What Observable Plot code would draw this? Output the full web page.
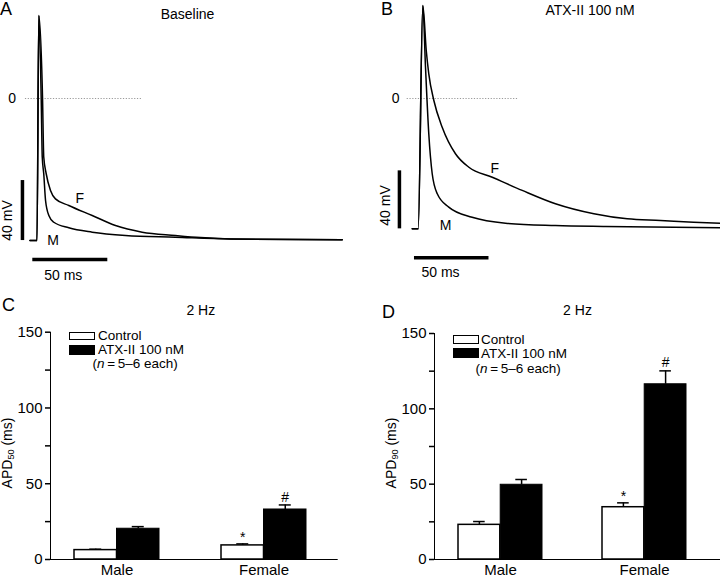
<!DOCTYPE html>
<html><head><meta charset="utf-8">
<script src="https://cdn.jsdelivr.net/npm/d3@7"></script>
<script src="https://cdn.jsdelivr.net/npm/@observablehq/plot@0.6"></script>
<style>
body{margin:0;background:#fff;}
#fig{position:relative;width:720px;height:577px;font-family:"Liberation Sans",Arial,sans-serif;color:#000;overflow:hidden;background:#fff;}
.lbl{position:absolute;white-space:nowrap;line-height:1;}
.leg{line-height:0.85;}
.sw{position:absolute;box-sizing:border-box;}
sub{font-size:0.65em;vertical-align:-0.2em;line-height:1;}
.bars g[aria-label="y-axis tick"], .bars g[aria-label="frame"], .bars g[aria-label="x-axis tick"]{stroke-width:1.5px;}
</style></head><body><div id="fig"></div>
<script>
// ---------- Data: action potential traces (time in ms, voltage in mV) ----------
const baselineMaleT = [-4.7, 0, 1.2, 2.8, 3.5, 4.5, 5.7, 7.9, 11.2, 21.2, 36.8, 59, 92.3, 129, 203.5];
const baselineMaleV = [-94.7, -94.7, 55.3, 0, -39, -50.2, -68, -78, -82.5, -86.2, -89.1, -91.3, -92.5, -93.7, -94.2];
const baselineFemaleT = [-4.7, 0, 1.2, 3.7, 4.5, 6.1, 9, 12.3, 21.2, 36.8, 52.3, 70.1, 92.3, 109, 129, 203.5];
const baselineFemaleV = [-94.7, -94.7, 55.3, 0, -39, -50, -61.3, -66.9, -71.3, -78, -84.7, -89.1, -91.3, -92.7, -93.7, -94.2];

const atxMaleT = [-4, 0, 3.1, 4.9, 7.1, 9.4, 12.8, 20.5, 36.2, 58.6, 92.1, 125.7, 202.8];
const atxMaleV = [-89.9, -89.9, 64.1, 21.6, -24.3, -51.9, -65.7, -74.9, -81.9, -86, -87.6, -88.3, -89.2];
const atxFemaleT = [-4, 0, 3.1, 5.4, 7.1, 10.5, 16.1, 25, 34, 49.7, 69.8, 92.1, 117.9, 140.3, 162.6, 184.8, 202.8];
const atxFemaleV = [-89.9, -89.9, 64.1, 33.1, 17, -1.4, -19.8, -38.1, -47.4, -54.3, -63.4, -72.6, -79.5, -83, -84.1, -85.3, -86];

// ---------- Data: APD bar charts (ms) ----------
const sexes = ["Male", "Female"];
const treatments = ["Control", "ATX-II 100 nM"];
const apd50Control = [6.2, 9.3];
const apd50ControlErr = [0.6, 1.0];
const apd50Atx = [20.3, 33.0];
const apd50AtxErr = [1.4, 3.0];
const apd90Control = [23.0, 34.7];
const apd90ControlErr = [2.2, 2.9];
const apd90Atx = [49.6, 116.3];
const apd90AtxErr = [3.5, 8.9];
const yTicks = [0, 25, 50, 75, 100, 125, 150];

const fig = document.getElementById("fig");
const FONT = '"Liberation Sans", Arial, sans-serif';
function place(el, left, top, cls) { el.style.position = "absolute"; el.style.left = left + "px"; el.style.top = top + "px"; if (cls) el.classList.add(cls); fig.appendChild(el); }
function label(html, left, top, size, extra, cls) {
  const d = document.createElement("div"); d.className = "lbl" + (cls ? " " + cls : ""); d.innerHTML = html;
  d.style.left = left + "px"; d.style.top = top + "px"; d.style.fontSize = size + "px";
  if (extra) Object.assign(d.style, extra);
  fig.appendChild(d); return d;
}
const rows = (T, V) => T.map((t, i) => ({t, v: V[i]}));

function tracePanel(o) {
  return Plot.plot({
    width: 360, height: 290,
    marginLeft: o.ml, marginRight: o.mr, marginTop: o.mt, marginBottom: o.mb,
    style: {fontFamily: FONT, fontSize: "14px", color: "black", background: "transparent", overflow: "visible"},
    x: {domain: o.xd, axis: null},
    y: {domain: o.yd, axis: null},
    marks: [
      Plot.ruleY([0], {x1: o.zero[0], x2: o.zero[1], stroke: "#999", strokeWidth: 1, strokeDasharray: "1.2,1.6"}),
      Plot.text([{t: o.zeroLbl, v: 0}], {x: "t", y: "v", text: () => "0", fontSize: 14, lineAnchor: "middle"}),
      Plot.line(rows(o.mT, o.mV), {x: "t", y: "v", curve: "monotone-x", stroke: "black", strokeWidth: 1.5}),
      Plot.line(rows(o.fT, o.fV), {x: "t", y: "v", curve: "monotone-x", stroke: "black", strokeWidth: 1.5}),
      // scale bars (40 mV, 50 ms)
      Plot.ruleX([o.vbar.t], {y1: o.vbar.v, y2: o.vbar.v + 40, stroke: "black", strokeWidth: 3.5}),
      Plot.ruleY([o.hbar.v], {x1: o.hbar.t, x2: o.hbar.t + 50, stroke: "black", strokeWidth: 3.5}),
      Plot.text([o.vlbl], {x: "t", y: "v", text: () => "40 mV", rotate: -90, fontSize: 14, lineAnchor: "middle"}),
      Plot.text([o.hlbl], {x: "t", y: "v", text: () => "50 ms", fontSize: 14, lineAnchor: "middle"}),
      Plot.text(o.tags, {x: "t", y: "v", text: "s", fontSize: 14, lineAnchor: "middle"})
    ]
  });
}

// Panel A
place(tracePanel({
  ml: 21.5, mr: 16, mt: 8, mb: 42, xd: [-10, 205], yd: [-100, 60],
  zero: [-7.7, 70.1], zeroLbl: -16.5,
  mT: baselineMaleT, mV: baselineMaleV, fT: baselineFemaleT, fV: baselineFemaleV,
  vbar: {t: -9.7, v: -94.7}, hbar: {t: -2.8, v: -107.3},
  vlbl: {t: -19.5, v: -81.3}, hlbl: {t: 17.5, v: -117.8},
  tags: [{t: 28.5, v: -66.9, s: "F"}, {t: 10.7, v: -94.7, s: "M"}]
}), 0, 0);

// Panel B
place(tracePanel({
  ml: 35.35, mr: 0.1, mt: 3.75, mb: 47, xd: [-15, 202.8], yd: [-100, 65],
  zero: [-7.4, 67.5], zeroLbl: -15.2,
  mT: atxMaleT, mV: atxMaleV, fT: atxFemaleT, fV: atxFemaleV,
  vbar: {t: -12.6, v: -89.9}, hbar: {t: -2.5, v: -109.9},
  vlbl: {t: -21.9, v: -73.8}, hlbl: {t: 15, v: -119.8},
  tags: [{t: 51.4, v: -48.5, s: "F"}, {t: 18.3, v: -87.6, s: "M"}]
}), 360, 0);

function barPanel(o) {
  const band = d3.scaleBand(sexes, [o.ml, 360 - o.mr]).paddingInner(o.pi).paddingOuter(o.po).align(o.al);
  const bw = band.bandwidth();
  const data = [];
  sexes.forEach((s, i) => {
    data.push({sex: s, tr: treatments[0], value: o.ctl[i], err: o.ctlE[i]});
    data.push({sex: s, tr: treatments[1], value: o.atx[i], err: o.atxE[i]});
  });
  const ctl = data.filter(d => d.tr === treatments[0]);
  const atx = data.filter(d => d.tr === treatments[1]);
  const cap = 12;
  const capInL = (bw / 4) - cap / 2;
  const capInR = bw - capInL - cap;
  return Plot.plot({
    width: 360, height: 287,
    marginLeft: o.ml, marginRight: o.mr, marginTop: o.mt, marginBottom: o.mb,
    style: {fontFamily: FONT, fontSize: "15px", color: "black", background: "transparent", overflow: "visible"},
    x: {domain: sexes, paddingInner: o.pi, paddingOuter: o.po, align: o.al, label: null, tickSize: 0, tickPadding: 5, line: true},
    y: {domain: [0, 150], ticks: yTicks, tickFormat: d => d % 50 === 0 ? d : "", label: null, tickSize: 5, tickPadding: 3, line: true},
    marks: [
      Plot.ruleX(ctl, {x: "sex", y1: "value", y2: d => d.value + d.err, dx: -bw / 4, strokeWidth: 1.5}),
      Plot.ruleX(atx, {x: "sex", y1: "value", y2: d => d.value + d.err, dx: bw / 4, strokeWidth: 1.5}),
      Plot.tickY(ctl, {x: "sex", y: d => d.value + d.err, insetLeft: capInL, insetRight: capInR, strokeWidth: 1.5}),
      Plot.tickY(atx, {x: "sex", y: d => d.value + d.err, insetLeft: capInR, insetRight: capInL, strokeWidth: 1.5}),
      Plot.barY(ctl, {x: "sex", y: "value", fill: "white", stroke: "black", strokeWidth: 1.5, insetRight: bw / 2}),
      Plot.barY(atx, {x: "sex", y: "value", fill: "black", stroke: "black", strokeWidth: 1, insetLeft: bw / 2}),
      Plot.text(ctl.filter(d => d.sex === "Female"), {x: "sex", y: d => d.value + d.err, dx: -bw / 4, dy: o.starDy, text: () => "*", fontSize: 14, lineAnchor: "bottom"}),
      Plot.text(atx.filter(d => d.sex === "Female"), {x: "sex", y: d => d.value + d.err, dx: bw / 4, dy: o.hashDy, text: () => "#", fontSize: 14, lineAnchor: "bottom"})
    ]
  });
}

// Panel C
place(barPanel({
  ml: 50, mr: 23.3, mt: 41.7, mb: 18, pi: 0.4233, po: 0.1842, al: 0.429,
  ctl: apd50Control, ctlE: apd50ControlErr, atx: apd50Atx, atxE: apd50AtxErr, starDy: -1.5, hashDy: -2.6
}), 0, 290, "bars");

// Panel D
place(barPanel({
  ml: 74, mr: 0, mt: 43, mb: 18, pi: 0.4155, po: 0.198, al: 0.407,
  ctl: apd90Control, ctlE: apd90ControlErr, atx: apd90Atx, atxE: apd90AtxErr, starDy: -1.6, hashDy: -3.6
}), 360, 290, "bars");

// ---------- Titles, panel letters, legends, axis titles ----------
label("A", 0, 0, 18);
label("B", 381, 0, 18);
label("C", 2, 296, 18);
label("D", 382, 302.7, 18);
label("Baseline", 187.5, 6.5, 14, {transform: "translateX(-50%)"});
label("ATX-II 100 nM", 590, 3.2, 14, {transform: "translateX(-50%)"});
label("2 Hz", 200.8, 303.2, 14, {transform: "translateX(-50%)"});
label("2 Hz", 577.5, 303.2, 14, {transform: "translateX(-50%)"});

function legend(x, y1, y2, tx, ny, h1, h2) {
  const a = document.createElement("div"); a.className = "sw";
  Object.assign(a.style, {left: x + "px", top: y1 + "px", width: "26px", height: h1 + "px", border: "1.5px solid #000", background: "#fff"});
  fig.appendChild(a);
  const b = document.createElement("div"); b.className = "sw";
  Object.assign(b.style, {left: x + "px", top: y2 + "px", width: "26px", height: h2 + "px", background: "#000"});
  fig.appendChild(b);
  label(treatments[0], tx, y1 + h1 / 2 - 5.6, 13.5, null, "leg");
  label(treatments[1], tx, y2 + h2 / 2 - 5.6, 13.5, null, "leg");
  label("(<i>n</i>\u2009=\u20095\u20136 each)", tx - 5.5, ny - 5.6, 13.5, null, "leg");
}
legend(69, 331.7, 345, 98, 363.8, 8.5, 10);
legend(453, 335, 348.2, 481, 368.5, 8.5, 10);

label("APD<sub>50</sub> (ms)", 7.5, 453, 14, {transform: "translate(-50%,-50%) rotate(-90deg)"});
label("APD<sub>90</sub> (ms)", 392, 453, 14, {transform: "translate(-50%,-50%) rotate(-90deg)"});
</script></body></html>
